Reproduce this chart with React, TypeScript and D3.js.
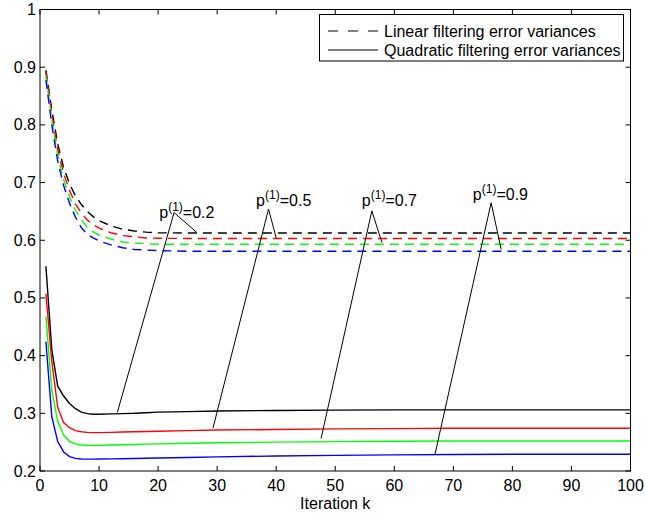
import React from 'react';
import * as d3 from 'd3';

// iteration steps at which the curves are sampled
const kSteps = [1, 2, 3, 4, 5, 6, 7, 8, 9, 10, 12, 14, 16, 18, 20, 25, 30, 40, 50, 60, 70, 80, 90, 100];

// linear filtering error variances (dashed)
const linearBlack = [0.895, 0.826, 0.767, 0.726, 0.698, 0.677, 0.662, 0.650, 0.641, 0.634, 0.625, 0.619, 0.616, 0.614, 0.613, 0.6125, 0.6125, 0.6125, 0.6125, 0.6125, 0.6125, 0.6125, 0.6125, 0.6125];
const linearRed = [0.891, 0.818, 0.757, 0.716, 0.686, 0.663, 0.647, 0.635, 0.627, 0.621, 0.613, 0.608, 0.606, 0.604, 0.6035, 0.603, 0.603, 0.603, 0.603, 0.603, 0.603, 0.603, 0.603, 0.603];
const linearGreen = [0.885, 0.809, 0.747, 0.705, 0.675, 0.652, 0.635, 0.623, 0.615, 0.609, 0.602, 0.597, 0.595, 0.594, 0.593, 0.593, 0.593, 0.593, 0.593, 0.593, 0.593, 0.593, 0.593, 0.593];
const linearBlue = [0.878, 0.800, 0.737, 0.695, 0.664, 0.640, 0.622, 0.610, 0.604, 0.599, 0.592, 0.587, 0.584, 0.583, 0.582, 0.581, 0.581, 0.581, 0.581, 0.581, 0.581, 0.581, 0.581, 0.581];

// quadratic filtering error variances (solid)
const quadBlack = [0.555, 0.410, 0.347, 0.330, 0.317, 0.308, 0.302, 0.2995, 0.2985, 0.2985, 0.299, 0.2995, 0.300, 0.301, 0.302, 0.303, 0.304, 0.305, 0.3055, 0.306, 0.306, 0.306, 0.306, 0.306];
const quadRed = [0.507, 0.390, 0.310, 0.284, 0.275, 0.270, 0.268, 0.267, 0.2665, 0.2665, 0.267, 0.2675, 0.268, 0.2685, 0.269, 0.270, 0.271, 0.272, 0.273, 0.2735, 0.274, 0.274, 0.274, 0.274];
const quadGreen = [0.468, 0.340, 0.286, 0.2625, 0.251, 0.247, 0.245, 0.2445, 0.2443, 0.2445, 0.245, 0.2455, 0.246, 0.2465, 0.247, 0.248, 0.249, 0.250, 0.251, 0.2515, 0.252, 0.252, 0.252, 0.252];
const quadBlue = [0.424, 0.294, 0.251, 0.233, 0.225, 0.2218, 0.2208, 0.2205, 0.2205, 0.2207, 0.221, 0.2213, 0.2217, 0.222, 0.2225, 0.2235, 0.2245, 0.226, 0.227, 0.228, 0.2285, 0.229, 0.229, 0.229];

const seriesColors = ['#000000', '#ff0000', '#00ff00', '#0000ff'];
const linearSeries = [linearBlack, linearRed, linearGreen, linearBlue];
const quadSeries = [quadBlack, quadRed, quadGreen, quadBlue];

const xTicks = [0, 10, 20, 30, 40, 50, 60, 70, 80, 90, 100];
const yTicks = [0.2, 0.3, 0.4, 0.5, 0.6, 0.7, 0.8, 0.9, 1];

// p(1) labels: text anchor, apex, end on dashed curve, end on solid curve (k, value)
const annotLabels = ['0.2', '0.5', '0.7', '0.9'];
const annotText = [[20.2, 0.638], [36.6, 0.659], [54.5, 0.659], [73.3, 0.670]];
const annotApex = [[22.7, 0.648], [38.7, 0.654], [56.2, 0.651], [76.4, 0.665]];
const annotDashEnd = [[26.6, 0.613], [40.0, 0.604], [57.9, 0.596], [78.1, 0.584]];
const annotSolidEnd = [[13.1, 0.3016], [29.3, 0.2747], [47.6, 0.2564], [66.9, 0.2295]];

const legendLabels = ['Linear filtering error variances', 'Quadratic filtering error variances'];

const W = 645;
const H = 519;
const margin = { top: 9.5, right: 14.5, bottom: 48, left: 40 };
const font = 'Liberation Sans, Arial, Helvetica, sans-serif';
const fs = 16;

export default function App() {
  const x = d3.scaleLinear().domain([0, 100]).range([margin.left, W - margin.right]);
  const y = d3.scaleLinear().domain([0.2, 1]).range([H - margin.bottom, margin.top]);

  const line = d3
    .line<number>()
    .x((_, i) => x(kSteps[i]))
    .y(d => y(d));

  const x0 = x(0);
  const x1 = x(100);
  const y0 = y(0.2);
  const y1 = y(1);
  const tickLen = 5;

  return (
    <svg
      width={W}
      height={H}
      style={{ position: 'absolute', left: 0, top: 0, background: '#fff' }}
      fontFamily={font}
    >
      <rect x={0} y={0} width={W} height={H} fill='#fff' />

      {/* curves */}
      {linearSeries.map((s, i) => (
        <path key={'l' + i} d={line(s) || ''} fill='none' stroke={seriesColors[i]}
          strokeWidth={1.4} strokeDasharray='9,6' />
      ))}
      {quadSeries.map((s, i) => (
        <path key={'q' + i} d={line(s) || ''} fill='none' stroke={seriesColors[i]}
          strokeWidth={1.4} />
      ))}

      {/* annotations */}
      {annotLabels.map((lab, i) => {
        const [ax, ay] = annotApex[i];
        const [dx, dy] = annotDashEnd[i];
        const [sx, sy] = annotSolidEnd[i];
        const [tx, ty] = annotText[i];
        return (
          <g key={'a' + i}>
            <line x1={x(ax)} y1={y(ay)} x2={x(dx)} y2={y(dy)} stroke='#000' strokeWidth={1} />
            <line x1={x(ax)} y1={y(ay)} x2={x(sx)} y2={y(sy)} stroke='#000' strokeWidth={1} />
            <text x={x(tx)} y={y(ty)} fontSize={fs} fill='#000'>
              <tspan>p</tspan>
              <tspan dy={-7} fontSize={12}>(1)</tspan>
              <tspan dy={7}>={lab}</tspan>
            </text>
          </g>
        );
      })}

      {/* frame */}
      <rect x={x0} y={y1} width={x1 - x0} height={y0 - y1} fill='none' stroke='#000' strokeWidth={1} />

      {/* x ticks */}
      {xTicks.map(t => (
        <g key={'x' + t}>
          <line x1={x(t)} x2={x(t)} y1={y0} y2={y0 - tickLen} stroke='#000' />
          <line x1={x(t)} x2={x(t)} y1={y1} y2={y1 + tickLen} stroke='#000' />
          <text x={x(t)} y={y0 + 20} textAnchor='middle' fontSize={fs} fill='#000'>{t}</text>
        </g>
      ))}
      {/* y ticks */}
      {yTicks.map(t => (
        <g key={'y' + t}>
          <line x1={x0} x2={x0 + tickLen} y1={y(t)} y2={y(t)} stroke='#000' />
          <line x1={x1} x2={x1 - tickLen} y1={y(t)} y2={y(t)} stroke='#000' />
          <text x={x0 - 4} y={y(t) + 5.5} textAnchor='end' fontSize={fs} fill='#000'>
            {d3.format('~g')(t)}
          </text>
        </g>
      ))}

      <text x={(x0 + x1) / 2} y={y0 + 38} textAnchor='middle' fontSize={fs} fill='#000'>Iteration k</text>

      {/* legend */}
      <g>
        <rect x={319.5} y={14.5} width={304} height={46.5} fill='#fff' stroke='#000' strokeWidth={1} />
        <line x1={328} x2={378} y1={31} y2={31} stroke='#000' strokeWidth={1} strokeDasharray='10,10' />
        <line x1={328} x2={378} y1={50} y2={50} stroke='#000' strokeWidth={1} />
        <text x={384} y={36.5} fontSize={fs} fill='#000'>{legendLabels[0]}</text>
        <text x={384} y={55.5} fontSize={fs} fill='#000'>{legendLabels[1]}</text>
      </g>
    </svg>
  );
}
